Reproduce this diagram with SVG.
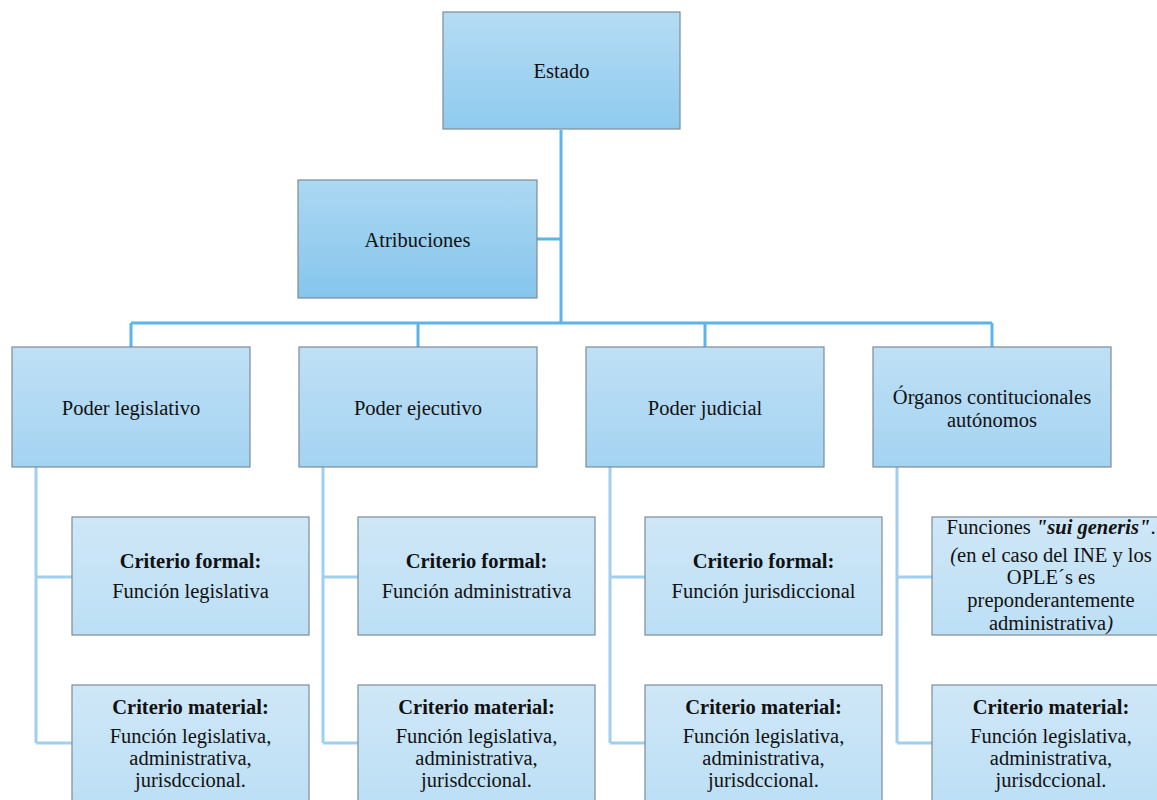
<svg xmlns="http://www.w3.org/2000/svg" width="1157" height="800" viewBox="0 0 1157 800">
<defs>
<linearGradient id="g1" x1="0" y1="0" x2="0" y2="1"><stop offset="0" stop-color="#b5dcf3"/><stop offset="1" stop-color="#8fcbef"/></linearGradient>
<linearGradient id="g2" x1="0" y1="0" x2="0" y2="1"><stop offset="0" stop-color="#acd8f2"/><stop offset="1" stop-color="#86c5ec"/></linearGradient>
<linearGradient id="g3" x1="0" y1="0" x2="0" y2="1"><stop offset="0" stop-color="#bfe0f5"/><stop offset="1" stop-color="#a4d3f2"/></linearGradient>
<linearGradient id="g4" x1="0" y1="0" x2="0" y2="1"><stop offset="0" stop-color="#cfe7f7"/><stop offset="1" stop-color="#bcdff5"/></linearGradient>
</defs>
<style>
.box{stroke:#7d8c99;stroke-width:1.2}
text{font-family:'Liberation Serif','DejaVu Serif',serif;font-size:20.5px;fill:#111;text-anchor:middle}
.b{font-weight:bold}
.c1{stroke:#5cb5e8;stroke-width:3;fill:none}
.c2{stroke:#a0cfef;stroke-width:3;fill:none}
</style>
<rect width="1157" height="800" fill="#fff"/>
<g id="connectors">
<path class="c1" d="M561 130V323M537 239H561M131 323H992M131 323V347M418 323V347M705 323V347M992 323V347"/>
<path class="c2" d="M36 467V743M36 577H72M36 743H72"/>
<path class="c2" d="M323 467V743M323 577H358M323 743H358"/>
<path class="c2" d="M610 467V743M610 577H645M610 743H645"/>
<path class="c2" d="M897 467V743M897 577H932M897 743H932"/>
</g>
<g id="estado"><rect class="box" x="443" y="12" width="237" height="117" fill="url(#g1)"/><text x="561.5" y="78">Estado</text></g>
<g id="atribuciones"><rect class="box" x="298" y="180" width="239" height="118" fill="url(#g2)"/><text x="417.5" y="247">Atribuciones</text></g>
<g id="legislativo"><rect class="box" x="12" y="347" width="238" height="120" fill="url(#g3)"/><text x="131" y="415">Poder legislativo</text></g>
<g id="ejecutivo"><rect class="box" x="299" y="347" width="238" height="120" fill="url(#g3)"/><text x="418" y="415">Poder ejecutivo</text></g>
<g id="judicial"><rect class="box" x="586" y="347" width="238" height="120" fill="url(#g3)"/><text x="705" y="415">Poder judicial</text></g>
<g id="organos"><rect class="box" x="873" y="347" width="238" height="120" fill="url(#g3)"/><text x="992" y="404">Órganos contitucionales</text><text x="992" y="427">autónomos</text></g>
<g id="leg-formal"><rect class="box" x="72" y="517" width="237" height="118" fill="url(#g4)"/><text class="b" x="190.5" y="568">Criterio formal:</text><text x="190.5" y="598">Función legislativa</text></g>
<g id="eje-formal"><rect class="box" x="358" y="517" width="237" height="118" fill="url(#g4)"/><text class="b" x="476.5" y="568">Criterio formal:</text><text x="476.5" y="598">Función administrativa</text></g>
<g id="jud-formal"><rect class="box" x="645" y="517" width="237" height="118" fill="url(#g4)"/><text class="b" x="763.5" y="568">Criterio formal:</text><text x="763.5" y="598">Función jurisdiccional</text></g>
<g id="org-formal"><rect class="box" x="932" y="517" width="237" height="118" fill="url(#g4)"/>
<text x="1051" y="534">Funciones <tspan class="b" font-style="italic">"sui generis"</tspan>.</text>
<text x="1051" y="562"><tspan font-style="italic">(</tspan>en el caso del INE y los</text>
<text x="1051" y="584">OPLE´s es</text>
<text x="1051" y="607">preponderantemente</text>
<text x="1051" y="630">administrativa<tspan font-style="italic">)</tspan></text></g>
<g id="leg-material"><rect class="box" x="72" y="685" width="237" height="120" fill="url(#g4)"/><text class="b" x="190.5" y="714">Criterio material:</text><text x="190.5" y="743">Función legislativa,</text><text x="190.5" y="765">administrativa,</text><text x="190.5" y="787">jurisdccional.</text></g>
<g id="eje-material"><rect class="box" x="358" y="685" width="237" height="120" fill="url(#g4)"/><text class="b" x="476.5" y="714">Criterio material:</text><text x="476.5" y="743">Función legislativa,</text><text x="476.5" y="765">administrativa,</text><text x="476.5" y="787">jurisdccional.</text></g>
<g id="jud-material"><rect class="box" x="645" y="685" width="237" height="120" fill="url(#g4)"/><text class="b" x="763.5" y="714">Criterio material:</text><text x="763.5" y="743">Función legislativa,</text><text x="763.5" y="765">administrativa,</text><text x="763.5" y="787">jurisdccional.</text></g>
<g id="org-material"><rect class="box" x="932" y="685" width="237" height="120" fill="url(#g4)"/><text class="b" x="1051" y="714">Criterio material:</text><text x="1051" y="743">Función legislativa,</text><text x="1051" y="765">administrativa,</text><text x="1051" y="787">jurisdccional.</text></g>
</svg>
